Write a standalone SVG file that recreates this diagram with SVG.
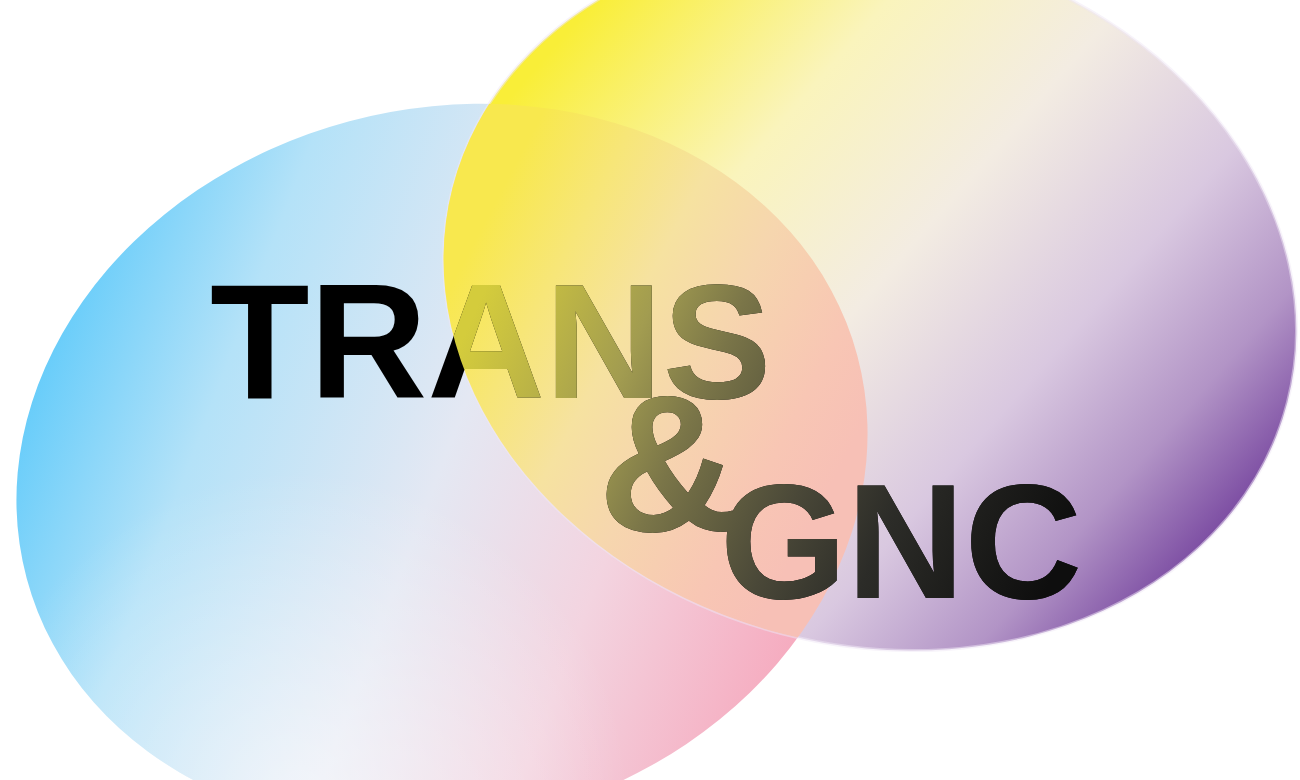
<svg xmlns="http://www.w3.org/2000/svg" width="1300" height="780" viewBox="0 0 1300 780">
  <style>
    .word { font-family: "Liberation Sans", Arial, sans-serif; font-weight: bold; }
  </style>
  <defs>
    <path id="shapeLeft" d="M 26.65 578.29 A 430 358 -15 1 1 857.35 355.71 A 430 358 -15 1 1 26.65 578.29 Z"/>
    <path id="shapeRight" d="M 452.54 187.81 A 431 350 14.4 1 1 1287.46 402.19 A 431 350 14.4 1 1 452.54 187.81 Z"/>
    <linearGradient id="gLeft" gradientUnits="userSpaceOnUse" x1="30" y1="360" x2="820" y2="660">
      <stop offset="0" stop-color="#62cbfa"/>
      <stop offset="0.22" stop-color="#b4e2f8"/>
      <stop offset="0.5" stop-color="#e4e8f3"/>
      <stop offset="0.72" stop-color="#f3d4e0"/>
      <stop offset="1" stop-color="#f6a6bb"/>
    </linearGradient>
    <radialGradient id="gLeftGlow" gradientUnits="userSpaceOnUse" cx="300" cy="800" r="330">
      <stop offset="0" stop-color="#ffffff" stop-opacity="0.55"/>
      <stop offset="1" stop-color="#ffffff" stop-opacity="0"/>
    </radialGradient>
    <linearGradient id="gRight" gradientUnits="userSpaceOnUse" x1="560" y1="40" x2="1200" y2="600">
      <stop offset="0" stop-color="#f9ee38"/>
      <stop offset="0.26" stop-color="#faf4bc"/>
      <stop offset="0.47" stop-color="#f3ece2"/>
      <stop offset="0.68" stop-color="#d9c8e0"/>
      <stop offset="0.84" stop-color="#b294c6"/>
      <stop offset="1" stop-color="#6c3898"/>
    </linearGradient>
    <linearGradient id="gOverlap" gradientUnits="userSpaceOnUse" x1="470" y1="250" x2="850" y2="450">
      <stop offset="0" stop-color="#f8e84e"/>
      <stop offset="0.2" stop-color="#f7e678"/>
      <stop offset="0.4" stop-color="#f6e2a0"/>
      <stop offset="0.6" stop-color="#f6d6ae"/>
      <stop offset="0.85" stop-color="#f8c6b4"/>
      <stop offset="1" stop-color="#f7c0b6"/>
    </linearGradient>
    <linearGradient id="gText" gradientUnits="userSpaceOnUse" x1="480" y1="300" x2="1060" y2="560">
      <stop offset="0" stop-color="#d4cc3c"/>
      <stop offset="0.08" stop-color="#c5bd42"/>
      <stop offset="0.25" stop-color="#a29c50"/>
      <stop offset="0.38" stop-color="#7a7548"/>
      <stop offset="0.58" stop-color="#4a4838"/>
      <stop offset="0.73" stop-color="#2c2c28"/>
      <stop offset="1" stop-color="#0e0e0e"/>
    </linearGradient>
    <clipPath id="clipRight">
      <use href="#shapeRight"/>
    </clipPath>
    <clipPath id="clipLeft">
      <use href="#shapeLeft"/>
    </clipPath>
  </defs>

  <rect width="1300" height="780" fill="#ffffff"/>

  <g id="circle-left">
    <use href="#shapeLeft" fill="url(#gLeft)"/>
    <use href="#shapeLeft" fill="url(#gLeftGlow)"/>
  </g>

  <g id="circle-right">
    <use href="#shapeRight" fill="url(#gRight)" stroke="#efe8f6" stroke-opacity="0.5" stroke-width="3"/>
  </g>

  <g id="overlap" clip-path="url(#clipLeft)">
    <use href="#shapeRight" fill="url(#gOverlap)"/>
  </g>

  <g id="title">
    <text class="word" x="210" y="398" font-size="163" fill="#000000">TRANS</text>
    <text class="word" x="598" y="531" font-size="195" fill="#000000">&amp;</text>
    <text class="word" x="720" y="598" font-size="163" fill="#000000">GNC</text>
  </g>

  <g id="title-tint" clip-path="url(#clipRight)">
    <text class="word" x="210" y="398" font-size="163" fill="url(#gText)">TRANS</text>
    <text class="word" x="598" y="531" font-size="195" fill="url(#gText)">&amp;</text>
    <text class="word" x="720" y="598" font-size="163" fill="url(#gText)">GNC</text>
  </g>
</svg>
